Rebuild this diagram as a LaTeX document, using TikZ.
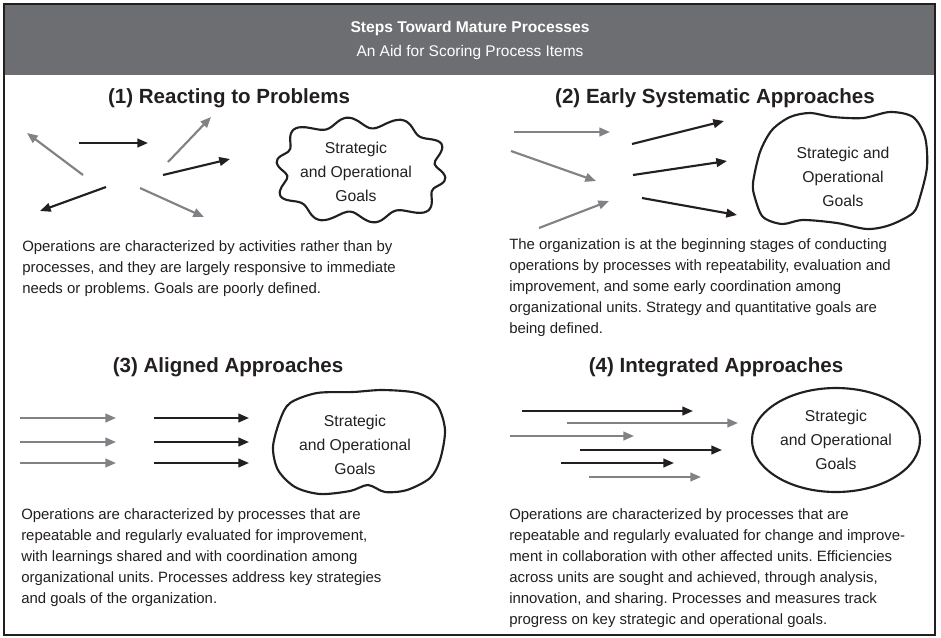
\documentclass[tikz,border=0pt]{standalone}
\usepackage{fontspec}
\setmainfont{Liberation Sans}
\usetikzlibrary{arrows.meta,shapes.geometric}
\definecolor{inkblack}{HTML}{231F20}
\definecolor{inkgray}{HTML}{808285}
\definecolor{bandgray}{HTML}{6D6E71}
\frenchspacing
\begin{document}
\begin{tikzpicture}[x=0.75pt,y=-0.75pt,
  arr/.style={line width=1.6pt,-{Triangle[length=8pt,width=6.5pt]}},
  blk/.style={arr,draw=inkblack,fill=inkblack},
  gry/.style={arr,draw=inkgray,fill=inkgray},
  heading/.style={font=\fontsize{15.4}{18}\selectfont\bfseries, text=inkblack, inner sep=0pt},
  body/.style={font=\fontsize{11.2}{15.75}\selectfont, align=left, anchor=north west, inner sep=0pt, text=inkblack},
  goal/.style={font=\fontsize{11.8}{18}\selectfont, align=center, inner sep=0pt, text=inkblack},
  outline/.style={line width=1.6pt, draw=inkblack, line join=round}]
\useasboundingbox (0,0) rectangle (941,637);
% header band and frame
\fill[bandgray] (4,4) rectangle (935,75);
\draw[line width=1.5pt, inkblack] (4,4) rectangle (935,635);
\node[font=\fontsize{11.7}{15}\selectfont\bfseries, text=white] (title) at (470,28) {Steps Toward Mature Processes};
\node[font=\fontsize{11.6}{15}\selectfont, text=white] (subtitle) at (470,52) {An Aid for Scoring Process Items};
% headings
\node[heading] (h1) at (229,98) {(1) Reacting to Problems};
\node[heading] (h2) at (715,98) {(2) Early Systematic Approaches};
\node[heading] (h3) at (228,367) {(3) Aligned Approaches};
\node[heading] (h4) at (716,367) {(4) Integrated Approaches};
% arrows: black
\foreach \n/\sx/\sy/\ex/\ey in {
  1/79/143/148/143, 2/163/175/230/159, 3/106/187/40/211,
  4/632/144/724/121, 5/633/175/727/161, 6/642/198/737/215,
  7/154/418/249/418, 8/154/442/249/442, 9/154/463/249/463,
  10/522/411/693/411, 11/580/450/722/450, 12/561/463/674/463}{
  \coordinate (bs\n) at (\sx,\sy);
  \coordinate (be\n) at (\ex,\ey);
  \draw[blk] (bs\n) -- (be\n);
}
% arrows: gray
\foreach \n/\sx/\sy/\ex/\ey in {
  1/83/175/27/133, 2/168/162/211/117, 3/140/188/204/217,
  4/514/132/610/132, 5/511/151/596/181, 6/539/228/609/201,
  7/20/418/116/418, 8/20/442/116/442, 9/20/463/116/463,
  10/567/423/738/423, 11/510/436/634/436, 12/589/477/701/477}{
  \coordinate (gs\n) at (\sx,\sy);
  \coordinate (ge\n) at (\ex,\ey);
  \draw[gry] (gs\n) -- (ge\n);
}
% goal shapes
\draw[outline] plot[smooth cycle, domain=0:356, samples=90]
  ({361+(79*(1+0.06*(1-cos(4*\x)))+5.5*sin(10*\x))*cos(\x)},
   {170+(47*(1+0.06*(1-cos(4*\x)))+5.5*sin(10*\x))*sin(\x)});
\draw[outline] plot[smooth cycle] coordinates {
  (760,152) (772,130) (790,117) (810,113) (833,117) (863,118) (890,112)
  (913,117) (925,137) (927,167) (920,197) (913,213) (890,225) (867,229)
  (837,223) (803,220) (782,224) (763,217) (755,198) (753,183)};
\draw[outline] plot[smooth cycle] coordinates {
  (290,403) (317,393) (353,392) (383,390) (417,393) (437,405) (445,430)
  (440,460) (430,478) (407,490) (385,492) (368,485) (350,491) (320,494)
  (295,487) (278,470) (273,447) (280,420)};
\node[goal] (g1) at (356,172) {Strategic\\and Operational\\Goals};
\node[goal] (g2) at (843,177) {Strategic and\\Operational\\Goals};
\node[goal] (g3) at (355,445) {Strategic\\and Operational\\Goals};
\node[goal, draw=inkblack, line width=1.6pt, ellipse, minimum width=126pt, minimum height=78pt] (g4) at (836,440) {Strategic\\and Operational\\Goals};
% body texts
\node[body] (t1) at (22,240) {Operations are characterized by activities rather than by\\
processes, and they are largely responsive to immediate\\
needs or problems. Goals are poorly defined.};
\node[body] (t2) at (509,238) {The organization is at the beginning stages of conducting\\
operations by processes with repeatability, evaluation and\\
improvement, and some early coordination among\\
organizational units. Strategy and quantitative goals are\\
being defined.};
\node[body] (t3) at (21,508) {Operations are characterized by processes that are\\
repeatable and regularly evaluated for improvement,\\
with learnings shared and with coordination among\\
organizational units. Processes address key strategies\\
and goals of the organization.};
\node[body] (t4) at (509,508) {Operations are characterized by processes that are\\
repeatable and regularly evaluated for change and improve-\\
ment in collaboration with other affected units. Efficiencies\\
across units are sought and achieved, through analysis,\\
innovation, and sharing. Processes and measures track\\
progress on key strategic and operational goals.};
\end{tikzpicture}
\end{document}
